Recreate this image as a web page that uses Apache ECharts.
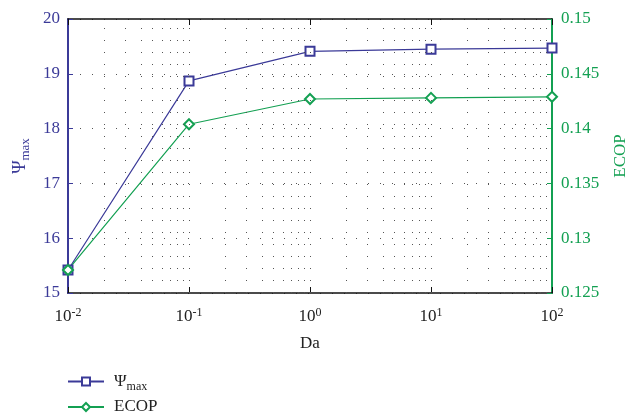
<!DOCTYPE html>
<html><head><meta charset="utf-8">
<script src="https://cdn.jsdelivr.net/npm/echarts@6/dist/echarts.min.js"></script>
<style>html,body{margin:0;padding:0;background:#fff}#c{width:639px;height:416px}</style>
</head><body><div id="c"></div>
<script>
const daValues = [0.01, 0.1, 1, 10, 100];
const psiMax = [15.42, 18.87, 19.41, 19.45, 19.47];
const ecop = [0.1271, 0.1404, 0.1427, 0.1428, 0.1429];
const minorDa = [0.02,0.03,0.04,0.05,0.06,0.07,0.08,0.09,0.2,0.3,0.4,0.5,0.6,0.7,0.8,0.9,2,3,4,5,6,7,8,9,20,30,40,50,60,70,80,90];
const majorDa = [0.1, 1, 10];

const BLUE = '#3b3a98';
const GREEN = '#13a052';
const FONT = 'Liberation Serif';
const dotStyle = {color: '#555', width: 1, type: [1, 11]};

const chart = echarts.init(document.getElementById('c'));
const supFmt = v => '10{sup|' + Math.round(Math.log10(v)) + '}';
chart.setOption({
  animation: false,
  backgroundColor: '#fff',
  grid: {left: 68, right: 87, top: 19, bottom: 123},
  legend: {
    orient: 'vertical', left: 67, top: 373, padding: 0, height: 43,
    itemWidth: 36, itemHeight: 10, itemGap: 6,
    data: ['Psi', 'ECOP'],
    formatter: n => n === 'Psi' ? 'Ψ{sub|max}' : n,
    textStyle: {fontFamily: FONT, fontSize: 17, color: '#222', padding: [0, 0, 0, 5],
      rich: {sub: {fontFamily: FONT, fontSize: 12, verticalAlign: 'bottom', padding: [10, 0, 0, 0], color: '#222'}}}
  },
  xAxis: [{
    type: 'log', logBase: 10, min: 0.01, max: 100,
    name: 'Da', nameLocation: 'middle', nameGap: 42,
    nameTextStyle: {fontFamily: FONT, fontSize: 17, color: '#222'},
    axisLine: {lineStyle: {color: '#111', width: 1.5}},
    axisTick: {inside: true, length: 6, lineStyle: {color: '#111'}},
    axisLabel: {formatter: supFmt, fontFamily: FONT, fontSize: 17, color: '#222', margin: 14,
      rich: {sup: {fontFamily: FONT, fontSize: 12, verticalAlign: 'top', padding: [0, 0, 8, 0], color: '#222'}}},
    splitLine: {show: false}
  }, {
    type: 'log', logBase: 10, min: 0.01, max: 100, position: 'top',
    axisLine: {lineStyle: {color: '#111', width: 1.5}},
    axisTick: {inside: true, length: 6, lineStyle: {color: '#111'}},
    axisLabel: {show: false}, splitLine: {show: false}
  }],
  yAxis: [{
    type: 'value', min: 15, max: 20, interval: 1, position: 'left',
    name: 'Ψ{sub|max}', nameLocation: 'middle', nameGap: 36, nameRotate: 90,
    nameTextStyle: {fontFamily: FONT, fontSize: 18, color: BLUE,
      rich: {sub: {fontFamily: FONT, fontSize: 13, color: BLUE, verticalAlign: 'bottom', padding: [10, 0, 0, 0]}}},
    axisLine: {show: true, lineStyle: {color: BLUE, width: 2}},
    axisTick: {show: true, inside: true, length: 5, lineStyle: {color: BLUE}},
    axisLabel: {fontFamily: FONT, fontSize: 17, color: BLUE, margin: 8},
    splitLine: {show: true, lineStyle: dotStyle}
  }, {
    type: 'value', min: 0.125, max: 0.15, interval: 0.005, position: 'right',
    name: 'ECOP', nameLocation: 'middle', nameGap: 60, nameRotate: 90,
    nameTextStyle: {fontFamily: FONT, fontSize: 17, color: GREEN},
    axisLine: {show: true, lineStyle: {color: GREEN, width: 2}},
    axisTick: {show: true, inside: true, length: 5, lineStyle: {color: GREEN}},
    axisLabel: {fontFamily: FONT, fontSize: 17, color: GREEN, margin: 9,
      formatter: v => String(parseFloat(v.toFixed(3)))},
    splitLine: {show: false}
  }],
  series: [{
    name: 'grid', type: 'line', data: [], silent: true, z: 1,
    markLine: {silent: true, symbol: 'none', label: {show: false},
      lineStyle: dotStyle,
      data: minorDa.concat(majorDa).map(v => ({xAxis: v}))}
  }, {
    name: 'Psi', type: 'line', xAxisIndex: 0, yAxisIndex: 0, z: 3,
    data: daValues.map((d, i) => [d, psiMax[i]]),
    symbol: 'emptyRect', symbolSize: 9,
    lineStyle: {color: BLUE, width: 1.2}, itemStyle: {color: BLUE, borderWidth: 1.2}
  }, {
    name: 'ECOP', type: 'line', xAxisIndex: 0, yAxisIndex: 1, z: 3,
    data: daValues.map((d, i) => [d, ecop[i]]),
    symbol: 'emptyDiamond', symbolSize: 10,
    lineStyle: {color: GREEN, width: 1.2}, itemStyle: {color: GREEN, borderWidth: 1.2}
  }]
});
</script></body></html>
